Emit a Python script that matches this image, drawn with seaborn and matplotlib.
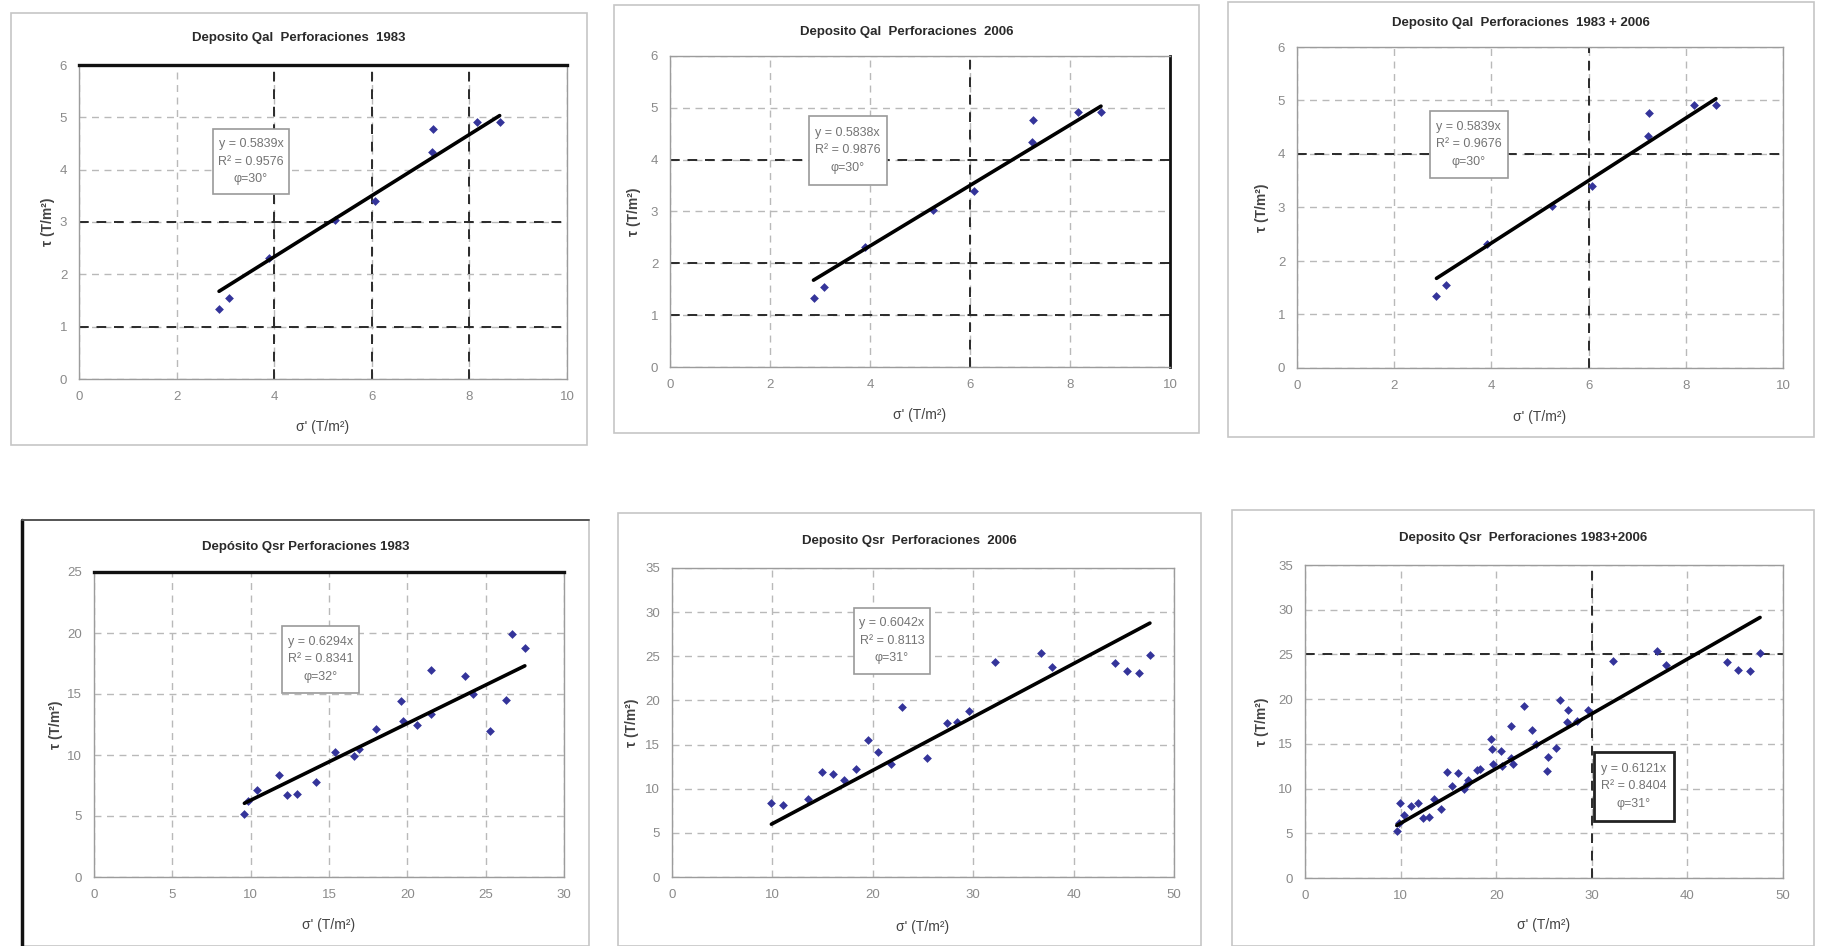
import numpy as np
import pandas as pd
import matplotlib
matplotlib.use("Agg")
import matplotlib.pyplot as plt
import seaborn as sns
from matplotlib.patches import Rectangle
from matplotlib.lines import Line2D

# ---------------- data ----------------
qal_x = [2.87, 3.07, 3.90, 5.25, 6.07, 7.23, 7.25, 8.16, 8.62]
qal_y = [1.34, 1.55, 2.32, 3.03, 3.40, 4.34, 4.77, 4.92, 4.91]

qsr83_x = [9.6, 9.8, 10.4, 11.8, 12.35, 12.97, 14.2, 15.4, 16.6, 16.9, 18.0,
           19.6, 19.7, 20.6, 21.5, 21.5, 23.7, 24.2, 25.3, 26.3, 26.7, 27.5]
qsr83_y = [5.2, 6.2, 7.1, 8.4, 6.7, 6.8, 7.75, 10.25, 9.9, 10.5, 12.1,
           14.4, 12.8, 12.5, 13.4, 17.0, 16.5, 15.0, 12.0, 14.5, 19.9, 18.8]

qsr06_x = [9.9, 11.1, 13.5, 14.9, 16.0, 17.1, 18.3, 19.5, 20.5, 21.8, 22.9,
           25.4, 27.4, 28.4, 29.6, 32.2, 36.8, 37.8, 44.1, 45.3, 46.5, 47.6]
qsr06_y = [8.4, 8.1, 8.8, 11.9, 11.7, 11.0, 12.2, 15.5, 14.2, 12.8, 19.2,
           13.5, 17.5, 17.6, 18.8, 24.3, 25.4, 23.8, 24.2, 23.3, 23.1, 25.2]

qsr_all_x = qsr83_x + qsr06_x
qsr_all_y = qsr83_y + qsr06_y

titles = ["Deposito Qal  Perforaciones  1983",
          "Deposito Qal  Perforaciones  2006",
          "Deposito Qal  Perforaciones  1983 + 2006",
          "Depósito Qsr Perforaciones 1983",
          "Deposito Qsr  Perforaciones  2006",
          "Deposito Qsr  Perforaciones 1983+2006"]
slopes = [0.5839, 0.5838, 0.5839, 0.6294, 0.6042, 0.6121]
eq_text = ["y = 0.5839x", "y = 0.5838x", "y = 0.5839x",
           "y = 0.6294x", "y = 0.6042x", "y = 0.6121x"]
r2_text = ["R² = 0.9576", "R² = 0.9876", "R² = 0.9676",
           "R² = 0.8341", "R² = 0.8113", "R² = 0.8404"]
phi_text = ["φ=30°", "φ=30°", "φ=30°", "φ=32°", "φ=31°", "φ=31°"]
xlabel = "σ' (T/m²)"
ylabel = "τ (T/m²)"

datasets = [(qal_x, qal_y), (qal_x, qal_y), (qal_x, qal_y),
            (qsr83_x, qsr83_y), (qsr06_x, qsr06_y), (qsr_all_x, qsr_all_y)]

# ---------------- layout / style ----------------
W, H = 1827, 946
sns.set_style("white")
plt.rcParams['font.family'] = ['Liberation Sans', 'DejaVu Sans']

panels = [
    dict(frame=(11, 13, 587, 445), plot=(79, 65, 567, 379), ty=38, xly=427, ylx=48,
         xlim=(0, 10), xstep=2, ylim=(0, 6), ystep=1, dark_x=[4, 6, 8], dark_y=[1, 3],
         top_black=True, right_black=False, box=(2.74, 3.53, 4.31, 4.78), box_dark=False),
    dict(frame=(614, 5, 1199, 433), plot=(670, 56, 1170, 367), ty=32, xly=415, ylx=634,
         xlim=(0, 10), xstep=2, ylim=(0, 6), ystep=1, dark_x=[6], dark_y=[1, 2, 4],
         top_black=False, right_black=True, box=(2.77, 3.52, 4.34, 4.84), box_dark=False),
    dict(frame=(1228, 2, 1814, 437), plot=(1297, 47, 1783, 368), ty=23, xly=417, ylx=1262,
         xlim=(0, 10), xstep=2, ylim=(0, 6), ystep=1, dark_x=[6], dark_y=[4],
         top_black=False, right_black=False, box=(2.73, 3.55, 4.34, 4.81), box_dark=False),
    dict(frame=(22, 520, 589, 946), plot=(94, 572, 564, 877), ty=547, xly=925, ylx=56,
         xlim=(0, 30), xstep=5, ylim=(0, 25), ystep=5, dark_x=[], dark_y=[],
         top_black=True, right_black=False, box=(12.0, 15.1, 16.9, 20.6), box_dark=False),
    dict(frame=(618, 513, 1201, 946), plot=(672, 568, 1174, 877), ty=541, xly=927, ylx=632,
         xlim=(0, 50), xstep=10, ylim=(0, 35), ystep=5, dark_x=[], dark_y=[],
         top_black=False, right_black=False, box=(18.1, 23.0, 25.7, 30.5), box_dark=False),
    dict(frame=(1232, 510, 1814, 946), plot=(1305, 565, 1783, 878), ty=538, xly=925, ylx=1262,
         xlim=(0, 50), xstep=10, ylim=(0, 35), ystep=5, dark_x=[30], dark_y=[25],
         top_black=False, right_black=False, box=(30.2, 6.4, 38.6, 14.1), box_dark=True),
]

POINT = "#34349a"
GRID = "#b9b9b9"
DARK = "#2a2a2a"
TICKC = "#8a8a8a"


def rect(l, t, r, b):
    return [l / W, 1 - b / H, (r - l) / W, (b - t) / H]


fig = plt.figure(figsize=(W / 100, H / 100), dpi=100)
fig.patch.set_facecolor("white")

for i, p in enumerate(panels):
    l, t, r, b = p["frame"]
    fig.add_artist(Rectangle((l / W, 1 - b / H), (r - l) / W, (b - t) / H,
                             transform=fig.transFigure, fill=False,
                             edgecolor="#c6c6c6", lw=1.2))
    if i == 3:
        fig.add_artist(Line2D([l / W, l / W], [1 - b / H, 1 - t / H],
                              transform=fig.transFigure, color="#111111", lw=2.5))
        fig.add_artist(Line2D([l / W, r / W], [1 - t / H, 1 - t / H],
                              transform=fig.transFigure, color="#555555", lw=1.4))

    ax = fig.add_axes(rect(*p["plot"]))
    xs, ys = datasets[i]
    df = pd.DataFrame({"x": xs, "y": ys})

    ax.set_xlim(*p["xlim"])
    ax.set_ylim(*p["ylim"])
    ax.set_xticks(np.arange(p["xlim"][0], p["xlim"][1] + 0.01, p["xstep"]))
    ax.set_yticks(np.arange(p["ylim"][0], p["ylim"][1] + 0.01, p["ystep"]))
    ax.grid(True, linestyle=(0, (5, 4)), color=GRID, lw=1.0, zorder=0)
    for dx in p["dark_x"]:
        ax.axvline(dx, linestyle=(0, (5, 4)), color=DARK, lw=1.4, zorder=1)
    for dy in p["dark_y"]:
        ax.axhline(dy, linestyle=(0, (5, 4)), color=DARK, lw=1.4, zorder=1)

    sns.scatterplot(data=df, x="x", y="y", ax=ax, marker="D", s=20, color=POINT,
                    edgecolor=POINT, linewidth=0, zorder=4, legend=False)
    xl = np.array([min(xs), max(xs)])
    sns.lineplot(x=xl, y=slopes[i] * xl, ax=ax, color="black", lw=2.6, zorder=5)

    for s in ["left", "bottom", "right", "top"]:
        ax.spines[s].set_color("#9c9c9c")
        ax.spines[s].set_linewidth(1.0)
    if p["top_black"]:
        ax.spines["top"].set_color("#111111")
        ax.spines["top"].set_linewidth(2.4)
    if p["right_black"]:
        ax.spines["right"].set_color("#111111")
        ax.spines["right"].set_linewidth(2.0)

    ax.tick_params(axis="both", direction="inout", length=5, width=1, color="#8c8c8c",
                   labelcolor=TICKC, labelsize=9.5, pad=6)
    ax.set_xlabel("")
    ax.set_ylabel("")

    bx0, by0, bx1, by1 = p["box"]
    ax.add_patch(Rectangle((bx0, by0), bx1 - bx0, by1 - by0, fill=True, facecolor="white",
                           edgecolor="#222222" if p["box_dark"] else "#9a9a9a",
                           lw=2.0 if p["box_dark"] else 1.2, zorder=6))
    ax.text((bx0 + bx1) / 2, (by0 + by1) / 2,
            eq_text[i] + "\n" + r2_text[i] + "\n" + phi_text[i],
            ha="center", va="center", fontsize=9, color="#747474",
            linespacing=1.6, zorder=7)

    # titles and axis labels
    fig.text(((l + r) / 2) / W, 1 - p["ty"] / H, titles[i], ha="center", va="center",
             fontsize=9.5, fontweight="bold", color="#2a2a2a")
    pl, pt, pr, pb = p["plot"]
    fig.text(((pl + pr) / 2) / W, 1 - p["xly"] / H, xlabel, ha="center", va="center",
             fontsize=10, color="#444444")
    fig.text(p["ylx"] / W, 1 - ((pt + pb) / 2) / H, ylabel, ha="center", va="center",
             rotation=90, fontsize=10, fontweight="bold", color="#444444")

fig.savefig("out.png", dpi=100, facecolor="white")
